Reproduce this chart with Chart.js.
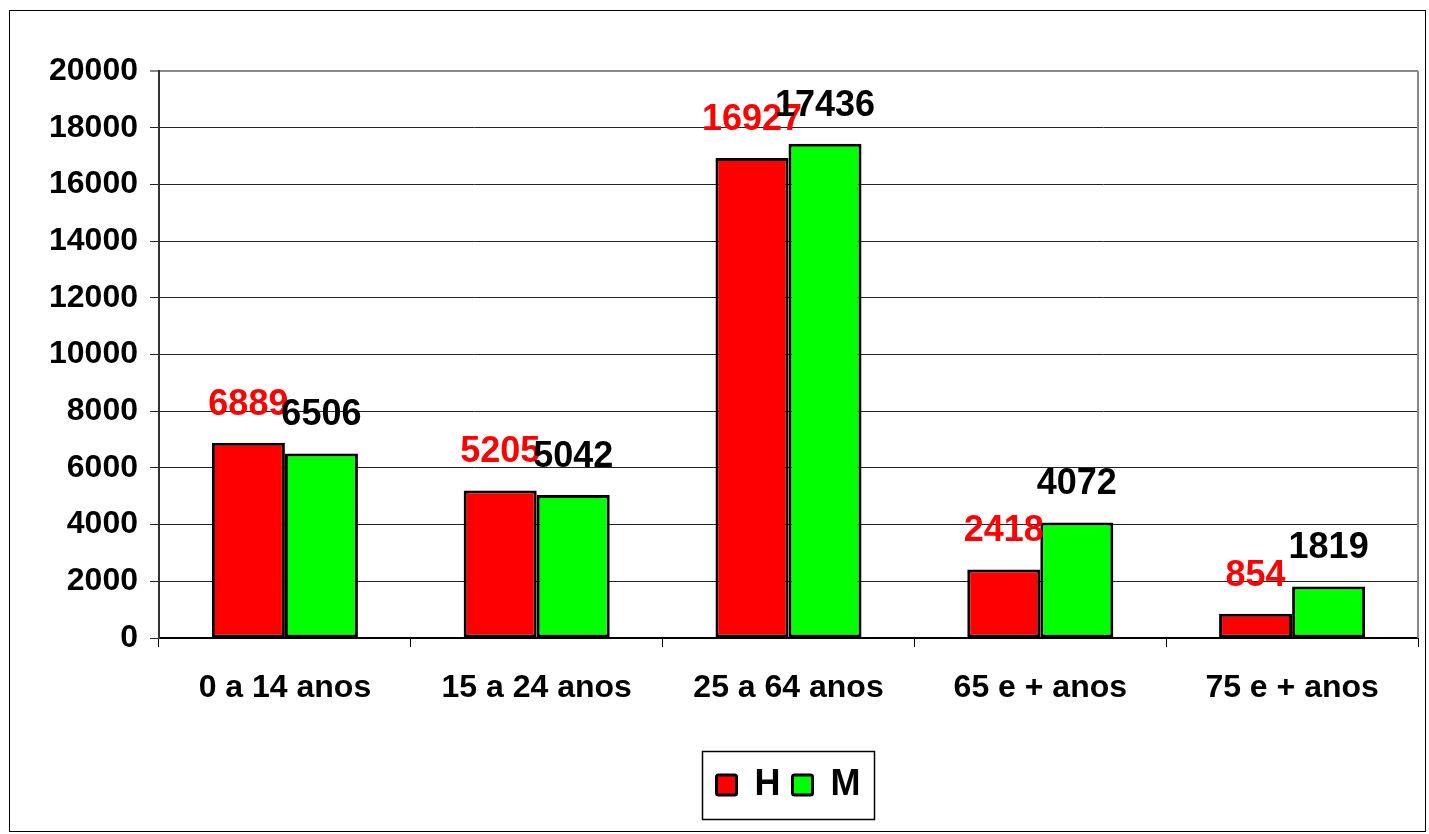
<!DOCTYPE html>
<html lang="pt">
<head>
<meta charset="UTF-8">
<title>H / M por idade</title>
<script src="https://cdn.jsdelivr.net/npm/chart.js"></script>
<style>
  body { margin: 0; background: #fff; }
  .moldura { position: absolute; left: 9px; top: 10px; width: 1415px; height: 820px; border: 1px solid #000; }
</style>
</head>
<body>
<div class="moldura">
  <canvas id="grafico"></canvas>
</div>
<script>
  const categorias = ['0 a 14 anos', '15 a 24 anos', '25 a 64 anos', '65 e + anos', '75 e + anos'];
  const homens = [6889, 5205, 16927, 2418, 854];
  const mulheres = [6506, 5042, 17436, 4072, 1819];

  const fonte = '"Liberation Sans", Arial, sans-serif';

  // valores por cima das barras
  const rotulos = {
    id: 'rotulos',
    afterDatasetsDraw(chart) {
      const c = chart.ctx;
      c.save();
      c.font = 'bold 36px ' + fonte;
      c.textAlign = 'center';
      c.textBaseline = 'middle';
      chart.data.datasets.forEach((ds, i) => {
        c.fillStyle = i === 0 ? '#ff0000' : '#000000';
        chart.getDatasetMeta(i).data.forEach((bar, j) => {
          c.fillText(ds.data[j], bar.x, bar.y - 38);
        });
      });
      c.restore();
    }
  };

  // borda cinza do lado direito e caixa da legenda
  const molduras = {
    id: 'molduras',
    afterDraw(chart) {
      const c = chart.ctx;
      const a = chart.chartArea;
      c.save();
      c.strokeStyle = '#888';
      c.lineWidth = 2;
      c.beginPath();
      c.moveTo(a.right, a.top);
      c.lineTo(a.right, a.bottom);
      c.stroke();

      const boxes = chart.legend.legendHitBoxes;
      if (boxes && boxes.length) {
        let x0 = Infinity, x1 = -Infinity, y0 = Infinity, y1 = -Infinity;
        boxes.forEach(b => {
          x0 = Math.min(x0, b.left); x1 = Math.max(x1, b.left + b.width);
          y0 = Math.min(y0, b.top); y1 = Math.max(y1, b.top + b.height);
        });
        const cy = (y0 + y1) / 2;
        c.strokeStyle = '#000';
        c.lineWidth = 1.5;
        c.strokeRect(Math.round(x0 - 15) + 0.5, Math.round(cy - 34) + 0.5, Math.round(x1 - x0 + 28), 68);
      }
      c.restore();
    }
  };

  new Chart(document.getElementById('grafico'), {
    type: 'bar',
    data: {
      labels: categorias,
      datasets: [{
        label: 'H',
        data: homens,
        backgroundColor: '#ff0000',
        borderColor: '#000',
        borderWidth: 3,
        borderSkipped: false
      }, {
        label: 'M',
        data: mulheres,
        backgroundColor: '#00ff00',
        borderColor: '#000',
        borderWidth: 3,
        borderSkipped: false
      }]
    },
    options: {
      responsive: true,
      maintainAspectRatio: false,
      animation: false,
      categoryPercentage: 0.58,
      barPercentage: 1,
      layout: { padding: { left: 0, right: 7, top: 60, bottom: 18 } },
      plugins: {
        tooltip: { enabled: false },
        legend: {
          position: 'bottom',
          fullSize: false,
          labels: {
            color: '#000',
            font: { family: fonte, size: 36, weight: 'bold' },
            boxWidth: 20,
            boxHeight: 20,
            padding: 12,
            useBorderRadius: true,
            borderRadius: 2
          }
        }
      },
      scales: {
        x: {
          grid: { offset: true, drawOnChartArea: false, drawTicks: true, tickLength: 9, color: '#000' },
          border: { color: '#000', width: 2 },
          ticks: { color: '#000', font: { family: fonte, size: 32, weight: 'bold' }, padding: 22 },
          afterFit(scale) { scale.height = 117; }
        },
        y: {
          min: 0,
          max: 20000,
          ticks: {
            stepSize: 2000,
            color: '#000',
            font: { family: fonte, size: 32, weight: 'bold' },
            padding: 12,
            callback: v => String(v)
          },
          grid: {
            color: ctx => ctx.tick && ctx.tick.value === 20000 ? '#888' : '#222',
            lineWidth: ctx => ctx.tick && ctx.tick.value === 20000 ? 2 : 1,
            tickLength: 9
          },
          border: { color: '#333', width: 2 },
          afterFit(scale) { scale.width = 149; }
        }
      }
    },
    plugins: [rotulos, molduras]
  });
</script>
</body>
</html>
